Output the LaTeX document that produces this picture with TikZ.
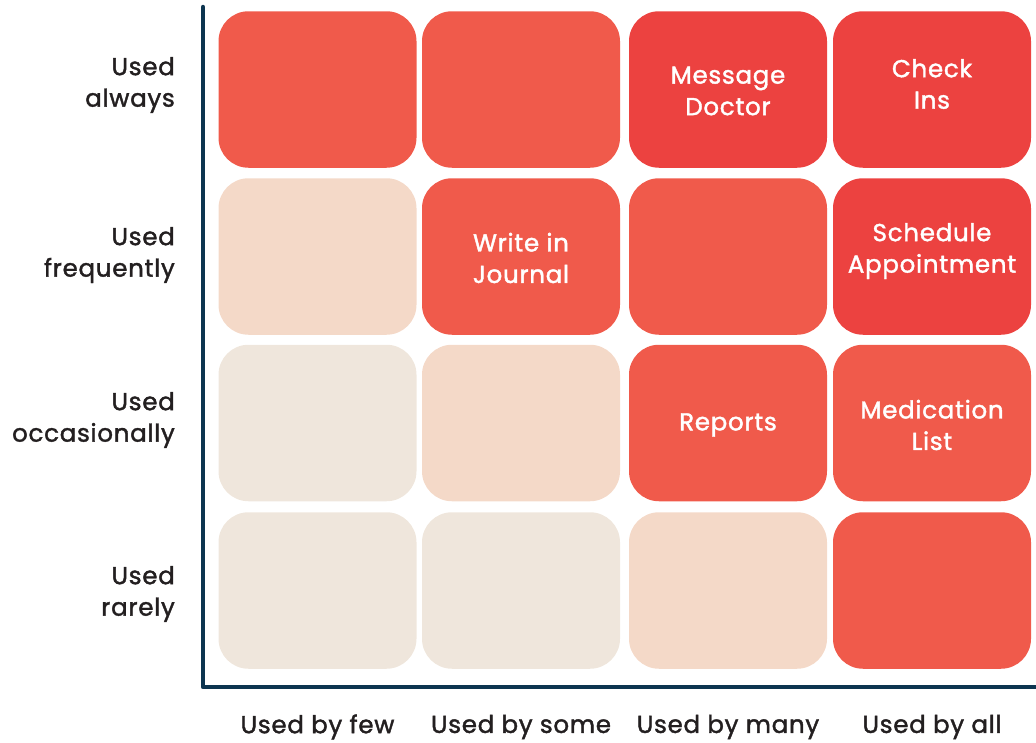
\documentclass[tikz,border=0pt]{standalone}
\usepackage{fontspec}
\setmainfont{Poppins}[FakeBold=1.6, LetterSpace=3]
\definecolor{cellmid}{HTML}{F05A4B}
\definecolor{celldark}{HTML}{EC4240}
\definecolor{cellpeach}{HTML}{F4D9C8}
\definecolor{cellbeige}{HTML}{EFE6DC}
\definecolor{axisnavy}{HTML}{0D3550}
\definecolor{labelgray}{HTML}{231F20}
\begin{document}
\begin{tikzpicture}[x=1pt,y=-1pt,
  cell/.style={rectangle, rounded corners=30pt, minimum width=198pt,
    minimum height=156.5pt, inner sep=0pt},
  celltext/.style={align=center, text=white, inner sep=0pt,
    font=\fontsize{24.5}{31.5}\selectfont},
  rowlabel/.style={anchor=east, align=right, text=labelgray, inner sep=0pt,
    font=\fontsize{24.5}{31.5}\selectfont},
  collabel/.style={text=labelgray, inner sep=0pt,
    font=\fontsize{24.5}{31.5}\selectfont},
  axisline/.style={draw=axisnavy, line width=4.5pt, line cap=round, line join=round}]
\useasboundingbox (0,0) rectangle (1036,742);

% grid of cells, columns at x = 317, 521, 728, 932; rows at y = 89, 256, 423, 590
\node[cell, fill=cellmid]   (c11) at (317.5,89.5) {};
\node[cell, fill=cellmid]   (c12) at (521,89.5) {};
\node[cell, fill=celldark]  (c13) at (728,89.5) {};
\node[cell, fill=celldark]  (c14) at (932,89.5) {};

\node[cell, fill=cellpeach] (c21) at (317.5,256.5) {};
\node[cell, fill=cellmid]   (c22) at (521,256.5) {};
\node[cell, fill=cellmid]   (c23) at (728,256.5) {};
\node[cell, fill=celldark]  (c24) at (932,256.5) {};

\node[cell, fill=cellbeige] (c31) at (317.5,423) {};
\node[cell, fill=cellpeach] (c32) at (521,423) {};
\node[cell, fill=cellmid]   (c33) at (728,423) {};
\node[cell, fill=cellmid]   (c34) at (932,423) {};

\node[cell, fill=cellbeige] (c41) at (317.5,590.5) {};
\node[cell, fill=cellbeige] (c42) at (521,590.5) {};
\node[cell, fill=cellpeach] (c43) at (728,590.5) {};
\node[cell, fill=cellmid]   (c44) at (932,590.5) {};

% cell captions
\node[celltext] (t13) at (728,91) {Message\\Doctor};
\node[celltext] (t14) at (932,84) {Check\\Ins};
\node[celltext] (t22) at (521,258) {Write in\\Journal};
\node[celltext] (t24) at (932,251) {Schedule\\Appointment};
\node[celltext] (t33) at (728,425) {Reports};
\node[celltext] (t34) at (932,425) {Medication\\List};

% axes
\coordinate (axtop) at (203,7);
\coordinate (axcorner) at (203,687);
\coordinate (axend) at (1036,687);
\draw[axisline] (axtop) -- (axcorner) -- (axend);

% row labels
\node[rowlabel] (r1) at (175,85) {Used\\always};
\node[rowlabel] (r2) at (175,255) {Used\\frequently};
\node[rowlabel] (r3) at (175,420) {Used\\occasionally};
\node[rowlabel] (r4) at (175,594) {Used\\rarely};

% column labels
\node[collabel] (k1) at (317.5,727) {Used by few};
\node[collabel] (k2) at (521,727) {Used by some};
\node[collabel] (k3) at (728,727) {Used by many};
\node[collabel] (k4) at (932,727) {Used by all};
\end{tikzpicture}
\end{document}
